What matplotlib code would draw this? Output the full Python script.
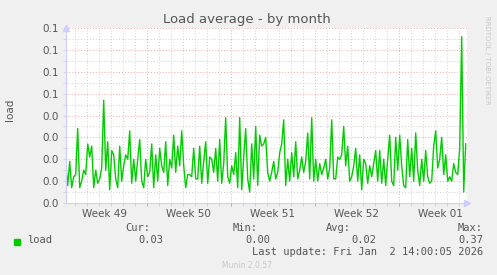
import numpy as np
import matplotlib
matplotlib.use("Agg")
import matplotlib.pyplot as plt
import matplotlib.dates as mdates

# load average, in thousandths, one sample every 4 hours
load_milli = [
    # Nov 30 - Dec 10
    18, 8, 19, 7, 12, 13, 34, 7, 10, 15, 13, 27, 21, 26, 7, 15, 9, 11, 16, 47,
    15, 28, 6, 24, 22, 11, 7, 26, 10, 17, 22,
    20, 33, 9, 20, 10, 20, 29, 10, 7, 20, 12, 14, 27, 7, 22, 10, 25, 17, 14, 28,
    8, 20, 16, 31, 14, 26, 17, 33, 17, 7, 13, 13, 12, 25, 11,
    # Dec 11 - Dec 22
    11, 26, 9, 19, 28, 9, 21, 20, 14, 25, 10, 29, 9, 18, 39, 12, 9, 17, 13, 23,
    7, 39, 6, 21, 34, 11, 5, 27, 11, 35, 8, 31, 26, 27,
    30, 14, 10, 14, 19, 11, 14, 23, 27, 38, 8, 20, 10, 23, 12, 28, 11, 15, 21, 14,
    19, 32, 11, 39, 10, 20, 10, 18, 13, 16, 20, 11, 16, 38,
    # Dec 23 - Jan 2
    11, 11, 21, 20, 22, 35, 17, 26, 10, 12, 17, 25, 10, 22, 6, 20, 18, 9, 17, 12,
    18, 24, 10, 24, 9, 20, 8, 20, 31, 10, 8, 30, 15, 31,
    17, 8, 7, 29, 12, 25, 10, 32, 15, 8, 20, 10, 24, 12, 9, 10, 26, 33, 16, 20,
    30, 13, 22, 10, 12, 10, 18, 14, 13, 25, 76, 5, 27,
]
first_sample = np.datetime64("2025-11-30T06:00")
sample_step = np.timedelta64(4, "h")

week_starts = np.array(["2025-11-30", "2025-12-07", "2025-12-14", "2025-12-21",
                        "2025-12-28"], dtype="datetime64[h]")
week_labels = ["Week 49", "Week 50", "Week 51", "Week 52", "Week 01"]

y_ticks = [0.0, 0.01, 0.02, 0.03, 0.04, 0.05, 0.06, 0.07, 0.08]
y_tick_labels = ["0.0", "0.0", "0.0", "0.0", "0.0", "0.1", "0.1", "0.1", "0.1"]

legend_heads = ["Cur:", "Min:", "Avg:", "Max:"]
legend_values = ["0.03", "0.00", "0.02", "0.37"]
last_update = "Last update: Fri Jan  2 14:00:05 2026"

load = np.array(load_milli) / 1000.0
times = first_sample + np.arange(len(load)) * sample_step

bg = "#f0f0f0"
txt = "#555555"
W, H = 497, 275

fig = plt.figure(figsize=(W / 100, H / 100), dpi=100, facecolor=bg)
ax = fig.add_axes([66 / W, 1 - 203 / H, 401 / W, 175 / H])
ax.set_facecolor("white")

ax.set_xlim(np.datetime64("2025-11-30T06:36"), np.datetime64("2026-01-02T16:36"))
ax.set_ylim(0, 0.08)

# grid: grey every day / half step, red every week / step
ax.xaxis.set_minor_locator(mdates.DayLocator())
ax.xaxis.set_major_locator(mdates.WeekdayLocator(byweekday=mdates.SU))
ax.set_yticks(y_ticks)
ax.set_yticklabels(y_tick_labels)
ax.set_yticks(np.arange(0.005, 0.08, 0.01), minor=True)
ax.grid(which="minor", color="#cfcfcf", linestyle=(0, (1, 2)), linewidth=0.7)
ax.grid(which="major", color="#f0a8a8", linestyle=(0, (1, 2)), linewidth=0.7)
ax.set_axisbelow(True)
ax.set_xticklabels([])

ax.tick_params(which="both", direction="out", length=2, width=0.6,
               colors="#cfcfcf", labelcolor=txt, labelsize=7.5, pad=3)
ax.tick_params(axis="x", which="major", colors="#f08080", labelcolor=txt)
ax.tick_params(axis="y", which="major", colors="#cfcfcf", labelcolor=txt)

for s in ["top", "right"]:
    ax.spines[s].set_visible(False)
for s in ["left", "bottom"]:
    ax.spines[s].set_color("#ccccff")
    ax.spines[s].set_linewidth(0.8)

# axis arrows
ax.plot(1.0, 0, ">", color="#ccccff", ms=4, transform=ax.transAxes, clip_on=False)
ax.plot(0, 1.0, "^", color="#ccccff", ms=4, transform=ax.transAxes, clip_on=False)

ax.plot(times, load, color="#00cc00", linewidth=1.0)

# week labels in the middle of each week
for ws, lab in zip(week_starts, week_labels):
    mid = ws + np.timedelta64(84, "h")
    ax.text(mid, -0.065, lab, transform=ax.get_xaxis_transform(),
            ha="center", va="center", fontsize=7.5, color=txt)

fig.text(247 / W, 1 - 19 / H, "Load average - by month", ha="center", va="center",
         fontsize=9.5, color=txt)
fig.text(10 / W, 1 - 110 / H, "load", rotation=90, ha="center", va="center",
         fontsize=7.5, color=txt)
fig.text(487 / W, 1 - 60 / H, "RRDTOOL / TOBI OETIKER", rotation=270,
         ha="center", va="center", fontsize=5, color="#c8c8c8")

# legend block
mono = "DejaVu Sans Mono"
head_x = [150, 258, 351, 483]
for hx, head, val in zip(head_x, legend_heads, legend_values):
    fig.text(hx / W, 1 - 228 / H, head, ha="right", va="center",
             fontsize=7.5, family=mono, color=txt)
for vx, val in zip([163, 270, 376, 483], legend_values):
    fig.text(vx / W, 1 - 240 / H, val, ha="right", va="center",
             fontsize=7.5, family=mono, color=txt)
fig.patches.append(plt.Rectangle((14 / W, 1 - 245 / H), 6 / W, 6 / H,
                                 transform=fig.transFigure, color="#00cc00"))
fig.text(27 / W, 1 - 240 / H, "load", ha="left", va="center",
         fontsize=7.5, family=mono, color=txt)
fig.text(483 / W, 1 - 252 / H, last_update, ha="right", va="center",
         fontsize=7.5, family=mono, color=txt)
fig.text(247 / W, 1 - 265 / H, "Munin 2.0.57", ha="center", va="center",
         fontsize=5.5, color="#c8c8c8")

fig.savefig("out.png", dpi=100, facecolor=bg)
